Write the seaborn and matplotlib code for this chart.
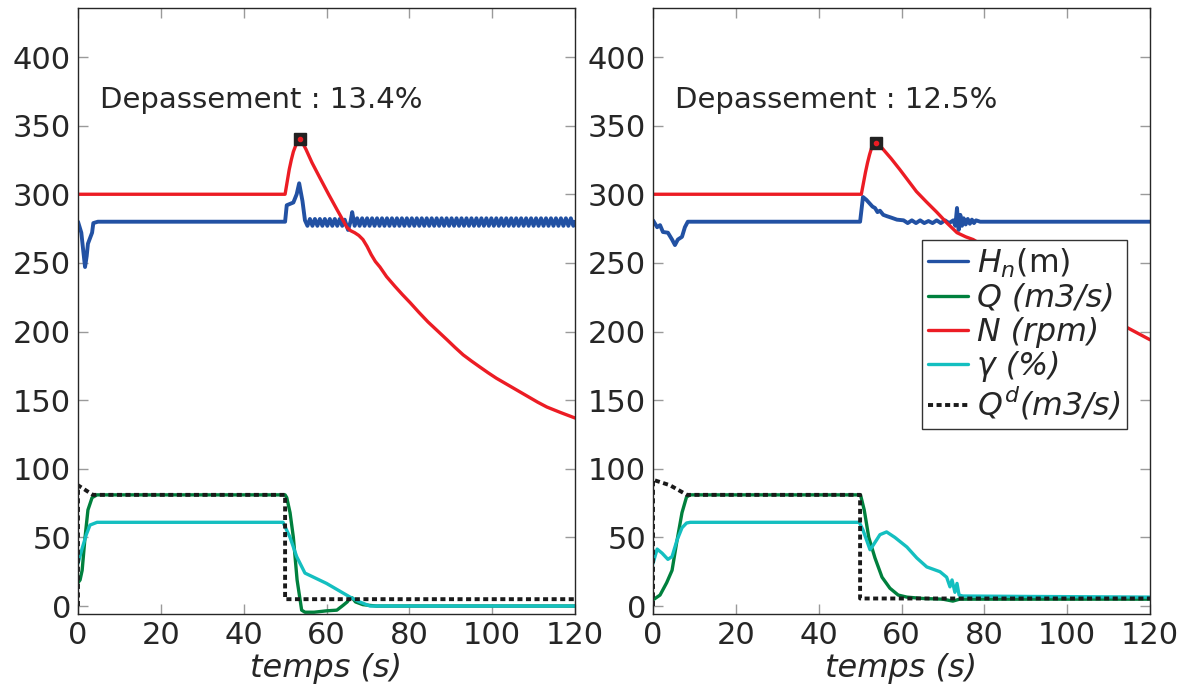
import numpy as np
import matplotlib
matplotlib.use("Agg")
import matplotlib.pyplot as plt
import seaborn as sns
from matplotlib.lines import Line2D

sns.set_theme(style="ticks")
plt.rcParams['font.family'] = ['DejaVu Sans']
plt.rcParams['mathtext.fontset'] = 'dejavusans'

# ---------------- data : left panel ----------------
ripple_a_t = [55.4, 56.0, 56.6, 57.2, 57.8, 58.4, 59.0, 59.6, 60.2, 60.8,
              61.4, 62.0, 62.6, 63.2, 63.8, 64.4]
ripple_a_v = [277, 282, 277, 282, 277, 282, 277, 282, 277, 282,
              277, 282, 277, 282, 277, 281.5]
ripple_b_t = [67.4, 68.0, 68.6, 69.2, 69.8, 70.4, 71.0, 71.6, 72.2, 72.8,
              73.4, 74.0, 74.6, 75.2, 75.8, 76.4, 77.0, 77.6, 78.2, 78.8,
              79.4, 80.0, 80.6, 81.2, 81.8, 82.4, 83.0, 83.6, 84.2, 84.8,
              85.4, 86.0, 86.6, 87.2, 87.8, 88.4, 89.0, 89.6, 90.2, 90.8,
              91.4, 92.0, 92.6, 93.2, 93.8, 94.4, 95.0, 95.6, 96.2, 96.8,
              97.4, 98.0, 98.6, 99.2, 99.8, 100.4, 101.0, 101.6, 102.2, 102.8,
              103.4, 104.0, 104.6, 105.2, 105.8, 106.4, 107.0, 107.6, 108.2, 108.8,
              109.4, 110.0, 110.6, 111.2, 111.8, 112.4, 113.0, 113.6, 114.2, 114.8,
              115.4, 116.0, 116.6, 117.2, 117.8, 118.4, 119.0, 119.6]
ripple_b_v = [282.5, 277, 282.5, 277, 282.5, 277, 282.5, 277, 282.5, 277,
              282.5, 277, 282.5, 277, 282.5, 277, 282.5, 277, 282.5, 277,
              282.5, 277, 282.5, 277, 282.5, 277, 282.5, 277, 282.5, 277,
              282.5, 277, 282.5, 277, 282.5, 277, 282.5, 277, 282.5, 277,
              282.5, 277, 282.5, 277, 282.5, 277, 282.5, 277, 282.5, 277,
              282.5, 277, 282.5, 277, 282.5, 277, 282.5, 277, 282.5, 277,
              282.5, 277, 282.5, 277, 282.5, 277, 282.5, 277, 282.5, 277,
              282.5, 277, 282.5, 277, 282.5, 277, 282.5, 277, 282.5, 277,
              282.5, 277, 282.5, 277, 282.5, 277, 282.5, 277]

H_left_t = ([0, 0.8, 1.3, 1.7, 2.1, 2.4, 2.9, 3.4, 3.7, 4.8,
             50.0, 50.4, 51.2, 52.0, 52.8, 53.4, 54.2, 54.8]
            + ripple_a_t + [65.2, 65.8, 66.2, 66.8] + ripple_b_t + [120])
H_left_v = ([280, 272, 258, 247, 255, 264, 268, 272, 279, 280,
             280, 292, 293, 294, 300, 308, 295, 281]
            + ripple_a_v + [274, 280, 287, 277] + ripple_b_v + [280])

Q_left_t = [0, 0.5, 1.0, 1.7, 2.4, 3.4, 4.6, 50.0, 50.4, 51.2, 52.0, 52.9, 54.0,
            54.8, 57.0, 60.0, 62.5, 64.0, 65.0, 65.6, 66.2, 67.0, 68.8, 72, 120]
Q_left_v = [17, 19, 26, 50, 70, 79, 81, 81, 79, 68, 50, 19, -3,
            -4.5, -4.5, -3.5, -3, 0.5, 3, 5.5, 6, 3, 1, 0, 0]

N_left_t = [0, 50, 50.5, 51, 51.5, 52, 52.5, 53, 53.6, 54.3, 55, 56.5, 58.4, 60.5,
            62.5, 63.8, 64.9, 65.8, 66.8, 67.8, 68.8, 69.8, 70.8, 71.8, 72.9,
            74.5, 76.5, 78.3, 80.2, 82.3, 84.5, 86.8, 89.1, 91, 93, 95, 97.1, 99,
            101, 103, 105.0, 107, 109, 111, 113.2, 116.5, 120]
N_left_v = [300, 300, 309, 318, 325, 331, 335, 338, 340, 337, 333, 323, 312, 300,
            289, 282, 276, 273.5, 272, 270, 267, 262, 256, 251, 247,
            240, 233, 227, 221, 214, 207, 200.5, 194, 188.5, 183, 178.5, 174, 170,
            166, 162.5, 159, 155.5, 152, 148.5, 145, 141, 137]

G_left_t = [0, 1.0, 2.0, 2.9, 4.6, 49.5, 51.2, 52.8, 54.8, 60, 65.7, 68, 70.5, 120]
G_left_v = [31, 42, 52, 59, 61, 61, 50, 36, 24, 16.5, 6.5, 3, 0, 0]

Qd_left_t = [0, 0, 3.6, 50, 50, 120]
Qd_left_v = [0, 88, 81, 81, 5, 5]

# ---------------- data : right panel ----------------
H_right_t = [0, 1.0, 1.7, 2.4, 3.6, 4.6, 5.3, 6.0, 7.0, 7.7, 8.4,
             50.0, 50.7, 51.5, 52.4, 53.0, 53.6, 54.2, 54.8, 55.6, 56.5, 57.5, 58.9,
             60.5, 61.5, 62.5, 63.5, 64.5, 65.5, 66.5, 67.5, 68.5, 69.5, 70.5, 71.5,
             72.5, 73.0, 73.4, 73.8, 74.2, 74.6, 75.0, 75.5, 76.0, 76.5, 77.0, 77.5,
             78.0, 79.0, 80.0, 120]
H_right_v = [281, 276, 277.5, 272.5, 272, 267, 263, 267, 269, 276, 280,
             280, 298, 296, 293, 291, 290, 287, 288, 285, 284, 283, 281.5,
             281, 279, 281, 279, 281, 279, 280.5, 279, 281, 279, 281, 279,
             281, 277, 290, 274, 285, 277, 282.5, 278, 282, 278.5, 281.5, 279,
             281, 280, 280, 280]

Q_right_t = [0, 1.7, 3.3, 4.6, 5.7, 7.0, 8.1, 9.0, 50.1, 51.0, 52.1, 53.6, 55.3,
             57.2, 59.2, 61.3, 65.2, 70, 72.4, 74, 120]
Q_right_v = [4.5, 8, 17, 26, 46, 68, 79.5, 81, 81, 70, 50, 35, 21,
             13, 8, 6.5, 5.5, 5, 3.6, 5, 5]

N_right_t = [0, 50.3, 50.8, 51.3, 51.8, 52.3, 52.8, 53.3, 53.8, 54.5, 55.5, 57.5,
             59.6, 61.6, 63.6, 66, 68.5, 71, 73.4, 75.5,
             77.3, 80, 85, 90, 95, 100, 105, 110, 114.4, 120]
N_right_v = [300, 300, 308, 316, 323, 329, 334, 336.5, 337.5, 336.5, 333, 326,
             318, 310, 302, 294.5, 287, 279, 272, 269,
             267, 262, 253, 245, 236, 228, 220, 212, 203, 194]

G_right_t = [0, 1.0, 2.2, 3.6, 4.6, 5.8, 7.0, 8.1, 9.0, 49.8, 50.7, 52.4, 53.2,
             54.8, 56.4, 58.4, 61.3, 63.7, 66.1, 69.3, 70.9, 71.7, 72.2, 72.9,
             73.4, 73.9, 74.8, 90, 120]
G_right_v = [31, 41.5, 38.5, 34, 36, 48, 57, 60.5, 61, 61, 55.4, 41, 44.5,
             52, 54, 50, 43, 35, 28.5, 25, 21, 14, 19, 10,
             16.5, 8, 7.3, 7, 6.5]

Qd_right_t = [0, 0, 4.1, 8.2, 50, 50, 120]
Qd_right_v = [0, 92, 88, 81, 81, 5.5, 5.5]

overshoot_labels = ["Depassement : 13.4%", "Depassement : 12.5%"]
legend_labels = [r"$H_n\mathrm{(m)}$", "Q (m3/s)", "N (rpm)", "\u03b3 (%)", r"$Q^d$(m3/s)"]
x_ticks = [0, 20, 40, 60, 80, 100, 120]
y_ticks = [0, 50, 100, 150, 200, 250, 300, 350, 400]

# ---------------- style ----------------
C_H = "#2251a3"
C_Q = "#00803d"
C_N = "#ec1c24"
C_G = "#14bfc0"
C_D = "#1a1a1a"
TXT = "#262626"

fig = plt.figure(figsize=(11.91, 6.95), dpi=100)
ax_l = fig.add_axes([78 / 1191, 81 / 695, 497 / 1191, 606 / 695])
ax_r = fig.add_axes([653 / 1191, 81 / 695, 497 / 1191, 606 / 695])

panels = [
    (ax_l, H_left_t, H_left_v, Q_left_t, Q_left_v, N_left_t, N_left_v,
     G_left_t, G_left_v, Qd_left_t, Qd_left_v, overshoot_labels[0]),
    (ax_r, H_right_t, H_right_v, Q_right_t, Q_right_v, N_right_t, N_right_v,
     G_right_t, G_right_v, Qd_right_t, Qd_right_v, overshoot_labels[1]),
]

LW = 2.4
DOT = (0, (1.3, 0.9))

for (ax, Ht, Hv, Qt, Qv, Nt, Nv, Gt, Gv, Dt, Dv, txt) in panels:
    kw = dict(ax=ax, estimator=None, sort=False, errorbar=None, legend=False)
    sns.lineplot(x=Ht, y=Hv, color=C_H, linewidth=2.8, **kw)
    sns.lineplot(x=Qt, y=Qv, color=C_Q, linewidth=LW, **kw)
    sns.lineplot(x=Nt, y=Nv, color=C_N, linewidth=LW, **kw)
    sns.lineplot(x=Gt, y=Gv, color=C_G, linewidth=LW, **kw)
    sns.lineplot(x=Dt, y=Dv, color=C_D, linewidth=2.8, linestyle=DOT,
                 dash_capstyle="butt", **kw)
    # peak marker on N
    i = int(np.argmax(Nv))
    ax.plot([Nt[i]], [Nv[i]], marker="s", ms=9, mfc="#222222", mec="#222222",
            ls="none", zorder=5)
    ax.plot([Nt[i]], [Nv[i]], marker="o", ms=3, mfc=C_N, mec=C_N, ls="none", zorder=6)

    ax.set_xlim(0, 120)
    ax.set_ylim(-5.8, 435.7)
    ax.set_xticks(x_ticks)
    ax.set_yticks(y_ticks)
    ax.tick_params(direction="in", length=7, width=1, color="#9a9a9a",
                   labelsize=22, labelcolor=TXT, top=True, right=True, pad=5)
    for s in ax.spines.values():
        s.set_visible(True)
        s.set_color(TXT)
        s.set_linewidth(1.0)
    ax.set_xlabel("temps (s)", fontsize=23, style="italic", color=TXT, labelpad=2)
    ax.set_ylabel("")
    ax.text(5.3, 368.7, txt, fontsize=21, ha="left", va="center", color=TXT)

handles = [
    Line2D([], [], color=C_H, lw=LW),
    Line2D([], [], color=C_Q, lw=LW),
    Line2D([], [], color=C_N, lw=LW),
    Line2D([], [], color=C_G, lw=LW),
    Line2D([], [], color=C_D, lw=2.8, ls=DOT, dash_capstyle="butt"),
]
leg = ax_r.legend(handles, legend_labels, loc="upper left",
                  bbox_to_anchor=(0.541, 0.617), borderaxespad=0,
                  prop={"size": 22.8, "style": "italic"}, frameon=True,
                  fancybox=False, framealpha=1, edgecolor="#333333",
                  handlelength=1.25, handletextpad=0.3, labelspacing=0.1,
                  borderpad=0.2)
leg.get_frame().set_linewidth(1.0)
for t in leg.get_texts():
    t.set_color(TXT)

fig.savefig("out.png", dpi=100, facecolor="white")
